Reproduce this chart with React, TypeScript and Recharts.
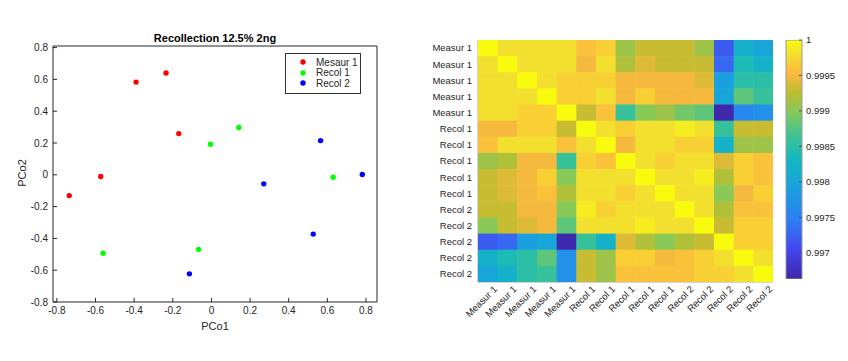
import React from "react";
import { ScatterChart, Scatter, XAxis, YAxis, Legend, BarChart, Bar } from "recharts";

// PCoA scatter
const pcoTicks = [-0.8, -0.6, -0.4, -0.2, 0, 0.2, 0.4, 0.6, 0.8];
const measurX = [-0.736, -0.573, -0.39, -0.235, -0.169];
const measurY = [-0.131, -0.011, 0.583, 0.64, 0.259];
const recol1X = [-0.561, -0.066, -0.005, 0.142, 0.63];
const recol1Y = [-0.493, -0.469, 0.192, 0.297, -0.015];
const recol2X = [-0.114, 0.271, 0.527, 0.565, 0.781];
const recol2Y = [-0.623, -0.057, -0.373, 0.215, 0.002];

// correlation heatmap
const heatLabels = [
  "Measur 1", "Measur 1", "Measur 1", "Measur 1", "Measur 1",
  "Recol 1", "Recol 1", "Recol 1", "Recol 1", "Recol 1",
  "Recol 2", "Recol 2", "Recol 2", "Recol 2", "Recol 2",
];
const r01 = [1, 0.9998, 0.9998, 0.9998, 0.9998, 0.9996, 0.9997, 0.9991, 0.9993, 0.9993, 0.9993, 0.9991, 0.9972, 0.9982, 0.998];
const r02 = [0.9998, 1, 0.9998, 0.9998, 0.9998, 0.9995, 0.9998, 0.9992, 0.9994, 0.9993, 0.9993, 0.9993, 0.9973, 0.9984, 0.9982];
const r03 = [0.9998, 0.9998, 1, 0.9998, 0.9997, 0.9997, 0.9997, 0.9995, 0.9995, 0.9995, 0.9995, 0.9994, 0.9979, 0.9985, 0.9985];
const r04 = [0.9998, 0.9998, 0.9998, 1, 0.9997, 0.9997, 0.9998, 0.9995, 0.9997, 0.9995, 0.9995, 0.9995, 0.998, 0.9988, 0.9986];
const r05 = [0.9998, 0.9998, 0.9997, 0.9997, 1, 0.9993, 0.9996, 0.9986, 0.999, 0.9991, 0.9989, 0.9988, 0.99665, 0.9976, 0.9977];
const r06 = [0.9995, 0.9995, 0.9997, 0.9997, 0.9993, 1, 0.9998, 0.9997, 0.9998, 0.9998, 0.9999, 0.9998, 0.9986, 0.9993, 0.9993];
const r07 = [0.9996, 0.9998, 0.9998, 0.9998, 0.9996, 0.9998, 1, 0.9995, 0.9998, 0.9998, 0.9997, 0.9997, 0.9982, 0.9991, 0.9991];
const r08 = [0.9991, 0.9992, 0.9995, 0.9995, 0.9986, 0.9997, 0.9996, 1, 0.9998, 0.9997, 0.9998, 0.9998, 0.9994, 0.9997, 0.9996];
const r09 = [0.9993, 0.9994, 0.9995, 0.9997, 0.999, 0.9998, 0.9998, 0.9998, 1, 0.9998, 0.9998, 0.9999, 0.9992, 0.9997, 0.9996];
const r10 = [0.9993, 0.9994, 0.9995, 0.9996, 0.9992, 0.9998, 0.9998, 0.9997, 0.9998, 1, 0.9998, 0.9998, 0.999, 0.9995, 0.9997];
const r11 = [0.9993, 0.9993, 0.9995, 0.9995, 0.999, 0.9999, 0.9997, 0.9998, 0.9998, 0.9998, 1, 0.9998, 0.9992, 0.9996, 0.9996];
const r12 = [0.999, 0.9993, 0.9994, 0.9995, 0.9988, 0.9998, 0.9998, 0.9998, 0.9999, 0.9998, 0.9998, 1, 0.9993, 0.9997, 0.9997];
const r13 = [0.9972, 0.9973, 0.9979, 0.998, 0.99665, 0.9986, 0.9982, 0.9994, 0.9992, 0.999, 0.9992, 0.9993, 1, 0.9997, 0.9997];
const r14 = [0.9982, 0.9984, 0.9985, 0.9988, 0.9977, 0.9993, 0.9991, 0.9997, 0.9997, 0.9995, 0.9996, 0.9997, 0.9998, 1, 0.9998];
const r15 = [0.998, 0.9982, 0.9985, 0.9986, 0.9977, 0.9993, 0.9991, 0.9996, 0.9996, 0.9996, 0.9996, 0.9997, 0.9997, 0.9998, 1];
const heatRows = [r01, r02, r03, r04, r05, r06, r07, r08, r09, r10, r11, r12, r13, r14, r15];

const colorMin = 0.99663;
const colorMax = 1;
const colorTicks = [0.997, 0.9975, 0.998, 0.9985, 0.999, 0.9995, 1];

// parula-ish colour stops (t from 0 to 1)
const parula: [number, string][] = [
  [0, "#3e26a8"],
  [0.12, "#4445ee"],
  [0.25, "#2d7ff5"],
  [0.38, "#1aa0df"],
  [0.5, "#12b8c0"],
  [0.6, "#3ec393"],
  [0.7, "#86c95a"],
  [0.78, "#bdbd30"],
  [0.86, "#fbb93e"],
  [0.91, "#f8cf34"],
  [0.95, "#f2e42b"],
  [1, "#f9fb0e"],
];

const hex = (c: string) => [1, 3, 5].map((i) => parseInt(c.slice(i, i + 2), 16));
const colorOf = (v: number) => {
  const t = Math.max(0, Math.min(1, (v - colorMin) / (colorMax - colorMin)));
  for (let i = 1; i < parula.length; i++) {
    if (t <= parula[i][0]) {
      const [t0, c0] = parula[i - 1];
      const [t1, c1] = parula[i];
      const f = (t - t0) / (t1 - t0);
      const a = hex(c0);
      const b = hex(c1);
      const m = a.map((x, k) => Math.round(x + (b[k] - x) * f));
      return `rgb(${m[0]},${m[1]},${m[2]})`;
    }
  }
  return parula[parula.length - 1][1];
};

const toPts = (xs: number[], ys: number[]) => xs.map((x, i) => ({ x, y: ys[i] }));
const measurPts = toPts(measurX, measurY);
const recol1Pts = toPts(recol1X, recol1Y);
const recol2Pts = toPts(recol2X, recol2Y);

const cells = heatRows.flatMap((row, r) => row.map((v, c) => ({ x: c + 0.5, y: r + 0.5, v })));
const cellTicks = heatLabels.map((_, i) => i + 0.5);

const FONT = "'Liberation Sans', Arial, sans-serif";
const TXT = "#262626";

const HEAT_W = 295 / 15;
const HEAT_H = 242 / 15;

const dot = (color: string) => (p: any) => <circle cx={p.cx} cy={p.cy} r={2.7} fill={color} />;

const cellShape = (p: any) => (
  <rect
    x={p.cx - HEAT_W / 2}
    y={p.cy - HEAT_H / 2}
    width={HEAT_W + 0.5}
    height={HEAT_H + 0.5}
    fill={colorOf(p.payload.v)}
  />
);

const slantTick = (p: any) => (
  <g transform={`translate(${p.x + 7},${p.y + 3})`}>
    <text transform="rotate(-45)" textAnchor="end" dy={4} fontSize={9.5} fill={TXT} fontFamily={FONT}>
      {heatLabels[Math.floor(p.payload.value)]}
    </text>
  </g>
);

const legendBox = (props: any) => (
  <div
    style={{
      border: "1px solid #333",
      background: "#fff",
      width: 76,
      boxSizing: "border-box",
      padding: "3px 0 4px 0",
      fontFamily: FONT,
      fontSize: 10,
      color: TXT,
      whiteSpace: "nowrap",
    }}
  >
    {(props.payload || []).map((p: any) => (
      <div key={p.value} style={{ display: "flex", alignItems: "center", height: 10.5 }}>
        <svg width={30} height={10} style={{ flex: "none" }}>
          <circle cx={17} cy={5} r={2.7} fill={p.color} />
        </svg>
        <span>{p.value}</span>
      </div>
    ))}
  </div>
);

const fmtNum = (v: number) => String(v);

const App: React.FC = () => {
  return (
    <div style={{ position: "absolute", left: 0, top: 0, width: 848, height: 361, background: "#fff", fontFamily: FONT }}>
      <div style={{ position: "absolute", left: 0, width: 430, top: 0 }}>
        <ScatterChart width={400} height={361} margin={{ top: 45, right: 22, bottom: 19, left: 8 }}>
          <XAxis
            type="number"
            dataKey="x"
            domain={[-0.82, 0.857]}
            ticks={pcoTicks}
            interval={0}
            allowDataOverflow
            height={40}
            tickSize={-4}
            tickMargin={9}
            stroke={TXT}
            tick={{ fontSize: 10, fill: TXT }}
            tickFormatter={fmtNum}
          />
          <XAxis
            xAxisId="top"
            orientation="top"
            type="number"
            domain={[-0.82, 0.857]}
            ticks={pcoTicks}
            interval={0}
            allowDataOverflow
            height={1}
            tick={false}
            tickSize={-4}
            stroke={TXT}
          />
          <YAxis
            type="number"
            dataKey="y"
            domain={[-0.8, 0.81]}
            ticks={pcoTicks}
            interval={0}
            allowDataOverflow
            width={45}
            tickSize={-4}
            tickMargin={9}
            stroke={TXT}
            tick={{ fontSize: 10, fill: TXT }}
            tickFormatter={fmtNum}
          />
          <YAxis
            yAxisId="right"
            orientation="right"
            type="number"
            domain={[-0.8, 0.81]}
            ticks={pcoTicks}
            interval={0}
            allowDataOverflow
            width={1}
            tick={false}
            tickSize={-4}
            stroke={TXT}
          />
          <Legend
            layout="vertical"
            align="center"
            verticalAlign="middle"
            wrapperStyle={{ top: 53, left: 285, width: 76 }}
            content={legendBox}
          />
          <Scatter name="Mesaur 1" data={measurPts} fill="#ff0000" shape={dot("#ff0000")} isAnimationActive={false} />
          <Scatter name="Recol 1" data={recol1Pts} fill="#00ff00" shape={dot("#00ff00")} isAnimationActive={false} />
          <Scatter name="Recol 2" data={recol2Pts} fill="#0000ff" shape={dot("#0000ff")} isAnimationActive={false} />
        </ScatterChart>
        <div style={{ position: "absolute", left: 115, width: 200, top: 32, textAlign: "center", fontWeight: "bold", fontSize: 11, color: "#000" }}>
          Recollection 12.5% 2ng
        </div>
        <div style={{ position: "absolute", left: 185, width: 60, top: 320, textAlign: "center", fontSize: 11, color: TXT }}>
          PCo1
        </div>
        <div
          style={{
            position: "absolute",
            left: -8,
            width: 60,
            top: 167,
            textAlign: "center",
            fontSize: 11,
            color: TXT,
            transform: "rotate(-90deg)",
          }}
        >
          PCo2
        </div>
      </div>

      <div style={{ position: "absolute", left: 400, top: 0 }}>
        <ScatterChart width={400} height={361} margin={{ top: 40, right: 27, bottom: 19, left: 18 }}>
          <XAxis
            type="number"
            dataKey="x"
            domain={[0, 15]}
            ticks={cellTicks}
            interval={0}
            allowDataOverflow
            height={60}
            tickLine={false}
            tickSize={0}
            stroke="#aaa"
            tick={slantTick}
          />
          <YAxis
            type="number"
            dataKey="y"
            domain={[0, 15]}
            reversed
            ticks={cellTicks}
            interval={0}
            allowDataOverflow
            width={60}
            tickLine={false}
            tickSize={0}
            tickMargin={6}
            stroke="#aaa"
            tick={{ fontSize: 9.5, fill: TXT }}
            tickFormatter={(v: number) => heatLabels[Math.floor(v)]}
          />
          <Scatter data={cells} shape={cellShape} isAnimationActive={false} />
        </ScatterChart>
      </div>

      <div style={{ position: "absolute", left: 780, top: 0 }}>
        <BarChart
          width={68}
          height={361}
          data={[{ name: "cb", range: [colorMin, colorMax] }]}
          margin={{ top: 40, right: 0, bottom: 82, left: 6 }}
          barCategoryGap={0}
        >
          <defs>
            <linearGradient id="parulaBar" x1="0" y1="1" x2="0" y2="0">
              {parula.map(([t, c]) => (
                <stop key={t} offset={`${t * 100}%`} stopColor={c} />
              ))}
            </linearGradient>
          </defs>
          <XAxis dataKey="name" hide />
          <YAxis
            orientation="right"
            type="number"
            domain={[colorMin, colorMax]}
            ticks={colorTicks}
            interval={0}
            allowDataOverflow
            width={46}
            axisLine={false}
            tickSize={-3}
            tickMargin={7}
            stroke="#555"
            tick={{ fontSize: 9.5, fill: TXT, textAnchor: "start" }}
            tickFormatter={fmtNum}
          />
          <Bar dataKey="range" fill="url(#parulaBar)" stroke="#999" isAnimationActive={false} />
        </BarChart>
      </div>
    </div>
  );
};

export default App;
